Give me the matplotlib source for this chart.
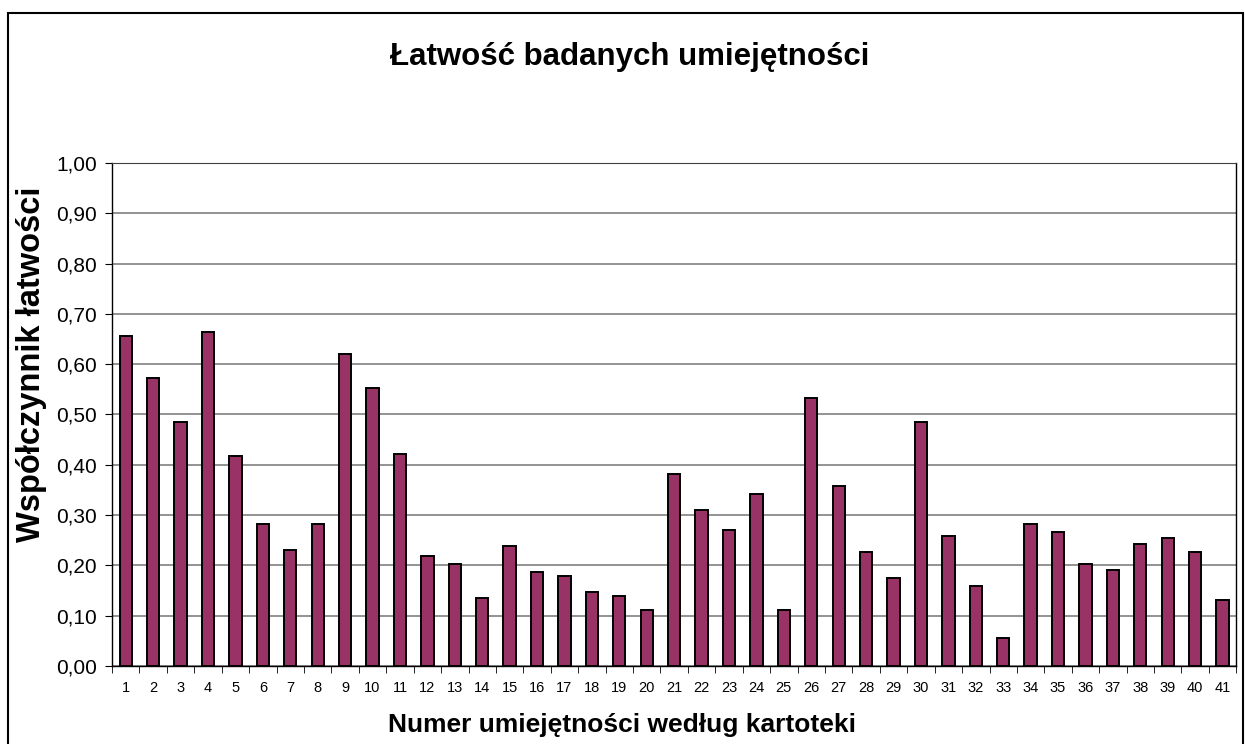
import matplotlib.pyplot as plt
from matplotlib.patches import Rectangle
from matplotlib.ticker import FixedLocator, FixedFormatter

plt.rcParams['font.family'] = ['Liberation Sans', 'DejaVu Sans']

numbers = list(range(1, 42))
values = [0.656, 0.573, 0.485, 0.664, 0.417, 0.282, 0.231, 0.282, 0.620, 0.553,
          0.421, 0.219, 0.203, 0.135, 0.239, 0.187, 0.179, 0.147, 0.139, 0.111,
          0.382, 0.310, 0.270, 0.342, 0.111, 0.533, 0.358, 0.227, 0.175, 0.485,
          0.258, 0.159, 0.056, 0.282, 0.266, 0.203, 0.191, 0.243, 0.254, 0.227,
          0.131]
y_ticks = [i / 10 for i in range(11)]

fig = plt.figure(figsize=(12.45, 7.44), dpi=100)
ax = fig.add_axes([0.090, 0.105, 0.903, 0.676])

ax.bar(numbers, values, width=0.45, color="#993366", edgecolor="black",
       linewidth=1.4, zorder=3)

ax.set_xlim(0.5, 41.5)
ax.set_ylim(0, 1.0)

ax.yaxis.set_major_locator(FixedLocator(y_ticks))
ax.yaxis.set_major_formatter(FixedFormatter([("%.2f" % v).replace(".", ",") for v in y_ticks]))
ax.grid(axis="y", color="#808080", linewidth=1.2, zorder=0)

ax.set_xticks(numbers)
ax.set_xticklabels([str(n) for n in numbers])
ax.set_xticks([n + 0.5 for n in range(0, 42)], minor=True)
ax.tick_params(axis="x", which="major", length=0, labelsize=10.5, pad=11)
ax.tick_params(axis="x", which="minor", length=5, direction="out")
ax.tick_params(axis="y", length=5, direction="out", labelsize=15, pad=6)

for side in ["left", "bottom", "right"]:
    ax.spines[side].set_color("black")
    ax.spines[side].set_linewidth(1.0)
ax.spines["top"].set_color("#404040")

fig.text(0.506, 0.923, "Łatwość badanych umiejętności", ha="center", va="center",
         fontsize=22.5, fontweight="bold")
fig.text(0.5, 0.026, "Numer umiejętności według kartoteki", ha="center",
         va="center", fontsize=19, fontweight="bold")
fig.text(0.025, 0.511, "Współczynnik łatwości", ha="center", va="center",
         rotation=90, fontsize=23.5, fontweight="bold")

fig.patches.append(Rectangle((0.0065, -0.01), 0.992, 0.993, transform=fig.transFigure,
                             fill=False, edgecolor="black", linewidth=1.5))

fig.savefig("out.png", dpi=100)
